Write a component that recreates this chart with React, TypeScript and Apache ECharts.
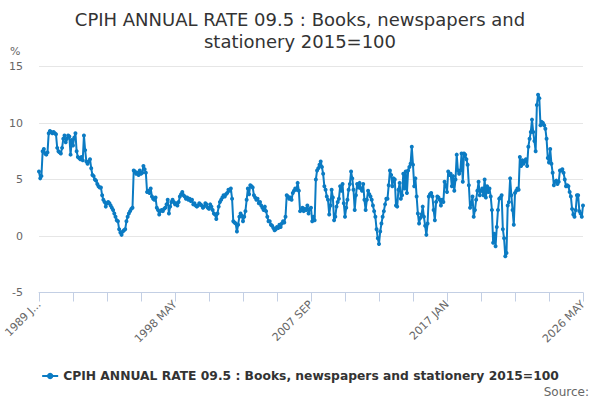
import React, { useEffect, useRef } from "react";
import * as echarts from "echarts";

const TITLE_LINE_1 = "CPIH ANNUAL RATE 09.5 : Books, newspapers and";
const TITLE_LINE_2 = "stationery 2015=100";
const SERIES_NAME = "CPIH ANNUAL RATE 09.5 : Books, newspapers and stationery 2015=100";
const Y_UNIT = "%";
const SOURCE_TEXT = "Source:";

const MONTHS = ["JAN", "FEB", "MAR", "APR", "MAY", "JUN", "JUL", "AUG", "SEP", "OCT", "NOV", "DEC"];
const FIRST_YEAR = 1989;
const LAST_YEAR = 2026;
const LAST_YEAR_MONTHS = 5;
const TICK_EVERY_MONTHS = 28;
const LABEL_EVERY_MONTHS = 112;

const Y_MIN = -5;
const Y_MAX = 15;
const Y_STEP = 5;

// Monthly annual rate (%), one row per year, 1989 JAN .. 2026 MAY
const annualRate: number[] = [
  5.7, 5.1, 5.3, 7.5, 7.7, 7.3, 7.2, 7.4, 9.1, 9.3, 9.2, 9.1, // 1989
  9.2, 9.1, 9.0, 7.8, 7.5, 7.4, 7.3, 7.8, 8.6, 8.9, 8.3, 8.6, // 1990
  8.9, 8.8, 7.2, 8.5, 8.0, 8.7, 9.1, 7.5, 7.0, 6.9, 6.8, 7.0, // 1991
  6.7, 8.9, 7.6, 6.6, 6.4, 6.6, 6.8, 6.0, 5.4, 5.3, 5.0, 4.9, // 1992
  4.6, 4.4, 4.3, 4.3, 3.6, 3.2, 3.0, 2.6, 2.9, 3.0, 2.9, 2.7, // 1993
  2.5, 2.3, 2.0, 1.7, 1.4, 1.3, 0.6, 0.3, 0.1, 0.4, 0.5, 0.6, // 1994
  1.3, 1.7, 2.0, 2.2, 2.4, 2.5, 5.8, 5.7, 5.5, 5.6, 5.4, 5.8, // 1995
  5.5, 5.6, 6.2, 5.9, 5.6, 3.9, 4.0, 3.8, 4.2, 3.5, 3.3, 3.2, // 1996
  3.4, 2.5, 2.3, 1.9, 2.2, 2.3, 2.2, 2.4, 2.5, 2.8, 3.2, 2.0, // 1997
  2.6, 3.0, 3.2, 3.0, 2.8, 2.9, 2.7, 3.0, 3.5, 3.7, 3.9, 3.6, // 1998
  3.5, 3.3, 3.4, 3.2, 3.3, 3.1, 3.2, 2.8, 2.9, 2.7, 2.6, 2.7, // 1999
  2.9, 2.8, 2.7, 2.5, 2.6, 2.9, 2.8, 2.5, 2.4, 2.8, 2.6, 2.3, // 2000
  2.0, 1.9, 1.5, 2.0, 2.6, 3.0, 3.2, 3.4, 3.6, 3.5, 3.7, 3.8, // 2001
  4.1, 4.0, 4.2, 3.3, 1.3, 1.2, 1.1, 0.4, 1.0, 1.7, 2.0, 1.8, // 2002
  1.3, 1.7, 2.2, 3.2, 4.2, 3.7, 4.5, 4.4, 4.3, 3.6, 3.4, 3.2, // 2003
  3.3, 2.9, 3.0, 2.7, 2.5, 2.3, 2.6, 2.2, 1.7, 1.3, 1.3, 1.0, // 2004
  0.9, 0.7, 0.5, 0.6, 0.8, 0.7, 1.0, 0.8, 1.1, 1.3, 1.2, 1.7, // 2005
  3.6, 3.5, 3.3, 3.4, 3.2, 3.8, 4.0, 4.2, 4.1, 4.7, 4.0, 2.2, // 2006
  2.3, 2.5, 2.2, 2.4, 2.3, 2.7, 2.0, 2.4, 2.5, 1.3, 1.7, 1.4, // 2007
  5.0, 5.8, 6.0, 6.3, 6.6, 6.1, 5.5, 4.4, 4.1, 3.5, 3.2, 1.9, // 2008
  2.7, 4.1, 3.4, 1.4, 1.7, 2.6, 3.0, 3.3, 4.4, 4.0, 4.6, 2.9, // 2009
  1.7, 2.5, 3.2, 4.1, 4.6, 5.7, 5.1, 4.1, 2.3, 3.6, 4.6, 4.3, // 2010
  4.7, 4.2, 4.0, 4.6, 3.2, 2.3, 3.2, 4.0, 3.7, 3.5, 3.2, 2.7, // 2011
  2.2, 1.7, 0.6, -0.2, -0.7, 0.4, 1.1, 1.7, 2.2, 2.8, 3.3, 3.3, // 2012
  4.5, 5.8, 5.4, 4.4, 5.1, 5.0, 2.7, 2.6, 4.1, 4.7, 3.3, 3.6, // 2013
  5.5, 4.2, 5.7, 3.8, 5.8, 6.1, 6.4, 7.9, 6.3, 4.4, 5.1, 3.5, // 2014
  2.0, 1.1, 1.6, 1.9, 2.6, 1.7, 0.9, 0.1, 1.1, 3.5, 3.7, 3.8, // 2015
  3.5, 2.3, 1.4, 3.0, 3.5, 3.4, 3.2, 2.7, 3.2, 3.0, 4.8, 4.5, // 2016
  3.9, 5.7, 5.4, 5.5, 4.4, 5.3, 4.0, 5.0, 7.2, 5.8, 5.5, 5.8, // 2017
  7.3, 4.8, 7.3, 7.2, 6.8, 6.3, 4.5, 2.5, 2.8, 3.5, 1.7, 2.3, // 2018
  3.2, 4.0, 4.8, 3.6, 4.0, 4.2, 3.6, 5.0, 3.4, 4.4, 3.9, 4.2, // 2019
  3.5, 2.3, -0.6, 0.2, -0.9, 0.8, 2.3, 3.3, 3.4, 3.6, 0.6, -0.2, // 2020
  -1.8, -1.5, 2.7, 3.0, 5.1, 3.6, 2.3, 1.0, 3.8, 4.0, 4.2, 4.1, // 2021
  7.0, 6.2, 6.7, 6.4, 6.6, 6.8, 6.2, 7.9, 8.6, 9.2, 10.3, 9.2, // 2022
  8.4, 7.5, 11.6, 12.5, 12.2, 9.8, 10.1, 10.0, 9.8, 9.5, 8.6, 6.9, // 2023
  6.5, 7.7, 6.4, 5.6, 4.5, 4.8, 4.9, 4.6, 4.8, 5.8, 5.8, 5.9, // 2024
  5.6, 5.0, 4.4, 4.5, 4.4, 3.9, 3.5, 2.4, 1.9, 1.7, 2.3, 3.6, // 2025
  3.6, 2.2, 2.0, 1.7, 2.7, // 2026
];

const LINE_COLOR = "#0b7bc3";
const AXIS_COLOR = "#c3cfe4";
const FONT = "DejaVu Sans";

const categories: string[] = [];
for (let y = FIRST_YEAR; y <= LAST_YEAR; y++) {
  const count = y === LAST_YEAR ? LAST_YEAR_MONTHS : 12;
  for (let m = 0; m < count; m++) categories.push(`${y} ${MONTHS[m]}`);
}

export default function App() {
  const ref = useRef<HTMLDivElement>(null);

  useEffect(() => {
    if (!ref.current) return;
    const chart = echarts.init(ref.current, undefined, { renderer: "svg" });
    chart.setOption({
      animation: false,
      textStyle: { fontFamily: FONT },
      title: {
        text: `${TITLE_LINE_1}\n${TITLE_LINE_2}`,
        left: "center",
        top: 3,
        textStyle: {
          fontFamily: FONT,
          fontSize: 18,
          fontWeight: "normal",
          color: "#333333",
          lineHeight: 22,
        },
      },
      grid: { left: 39, right: 17, top: 66.5, bottom: 107.5, containLabel: false },
      xAxis: [
        {
          type: "category",
          data: categories,
          boundaryGap: false,
          axisLine: { show: true, onZero: false, lineStyle: { color: AXIS_COLOR, width: 1 } },
          axisTick: { show: false },
          axisLabel: {
            interval: LABEL_EVERY_MONTHS - 1,
            rotate: 45,
            fontSize: 11,
            color: "#666666",
            fontFamily: FONT,
            margin: 10,
            formatter: (v: string, i: number) => (i === 0 ? v.slice(0, 6) + "..." : v),
          },
          splitLine: { show: false },
        },
        {
          type: "value",
          position: "bottom",
          min: 0,
          max: categories.length - 1,
          interval: TICK_EVERY_MONTHS,
          axisLine: { show: false, onZero: false },
          axisLabel: { show: false },
          axisTick: { show: true, length: 9, lineStyle: { color: AXIS_COLOR, width: 1 } },
          splitLine: { show: false },
        },
      ],
      yAxis: {
        type: "value",
        min: Y_MIN,
        max: Y_MAX,
        interval: Y_STEP,
        axisLine: { show: false },
        axisTick: { show: false },
        axisLabel: { fontSize: 11, color: "#666666", margin: 16, fontFamily: FONT },
        splitLine: { lineStyle: { color: "#e6e6e6", width: 1 } },
      },
      legend: {
        top: 365,
        left: "center",
        itemWidth: 16,
        itemHeight: 8,
        itemGap: 5,
        textStyle: { fontSize: 12.3, fontWeight: "bold", color: "#333333", fontFamily: FONT },
      },
      series: [
        {
          type: "line",
          name: SERIES_NAME,
          xAxisIndex: 0,
          data: annualRate,
          symbol: "circle",
          symbolSize: 4,
          showSymbol: true,
          showAllSymbol: true,
          lineStyle: { width: 2, color: LINE_COLOR },
          itemStyle: { color: LINE_COLOR },
        },
      ],
      graphic: [
        {
          type: "text",
          left: 10,
          top: 46,
          style: { text: Y_UNIT, fontSize: 11, fill: "#666666", fontFamily: FONT },
        },
        {
          type: "text",
          right: 11,
          bottom: 2,
          style: { text: SOURCE_TEXT, fontSize: 12, fill: "#666666", fontFamily: FONT },
        },
      ],
    });
    return () => chart.dispose();
  }, []);

  return (
    <div
      ref={ref}
      style={{ position: "absolute", left: 0, top: 0, width: 600, height: 400 }}
    />
  );
}
